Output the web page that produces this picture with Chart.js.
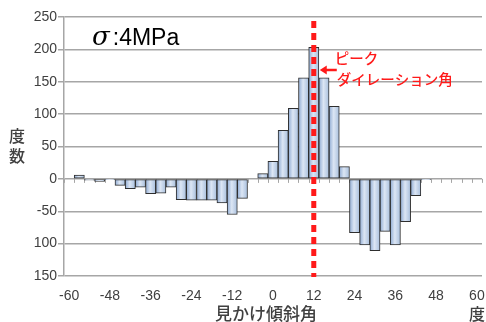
<!DOCTYPE html>
<html>
<head>
<meta charset="utf-8">
<script src="https://cdn.jsdelivr.net/npm/chart.js@4.4.1/dist/chart.umd.min.js"></script>
<style>
  html, body { margin: 0; padding: 0; background: #ffffff; }
  #wrap { width: 486px; height: 322px; position: relative; }
</style>
</head>
<body>
<div id="wrap"><canvas id="c" width="486" height="322"></canvas></div>
<script>
// Apparent dip angle bins (degrees, 3° steps)
const angles = [-60, -57, -54, -51, -48, -45, -42, -39, -36, -33, -30, -27, -24, -21,
                -18, -15, -12, -9, -6, -3, 0, 3, 6, 9, 12, 15, 18, 21, 24, 27, 30,
                33, 36, 39, 42, 45, 48, 51, 54, 57, 60];
// Frequency per bin
const counts = [0, 6, -2, -4, -1, -10, -15, -13, -23, -22, -13, -32, -33, -33,
                -33, -37, -55, -30, 0, 8, 27, 75, 109, 156, 203, 156, 112, 19, -83, -102, -111,
                -81, -102, -66, -26, -1, 0, 0, 0, 0, 0];
// Angle labels printed under the axis
const xTickLabels = ['-60', '-48', '-36', '-24', '-12', '0', '12', '24', '36', '48', '60'];
// Frequency axis ticks and their printed text
const yTickValues = [250, 200, 150, 100, 50, 0, -50, -100, -150];
const yTickText = ['250', '200', '150', '100', '50', '0', '-50', '100', '150'];
// Peak dilation angle
const peakAngle = 12;

const GRID = '#a6a6a6';
const TEXT = '#404040';
const RED = '#ff1a1a';

function barFill(c) {
  const chart = c.chart;
  const xs = chart.scales && chart.scales.x;
  if (!xs || c.dataIndex == null || !isFinite(xs.width)) return '#b9cde5';
  const cx = xs.getPixelForValue(c.dataIndex);
  const w = xs.width / angles.length;
  const g = chart.ctx.createLinearGradient(cx - w / 2, 0, cx + w / 2, 0);
  g.addColorStop(0, '#8fabd3');
  g.addColorStop(0.45, '#dce6f4');
  g.addColorStop(1, '#a8bfdd');
  return g;
}

// Small tick marks along the zero line at each bin boundary
const zeroTicks = {
  id: 'zeroTicks',
  beforeDatasetsDraw(chart) {
    const { ctx, scales: { x, y } } = chart;
    const y0 = y.getPixelForValue(0);
    const w = x.width / angles.length;
    ctx.save();
    ctx.strokeStyle = GRID;
    ctx.lineWidth = 1;
    for (let i = 0; i <= angles.length; i++) {
      const px = Math.round(x.getPixelForValue(Math.min(i, angles.length - 1)) + (i === angles.length ? w / 2 : -w / 2)) + 0.5;
      ctx.beginPath();
      ctx.moveTo(px, y0);
      ctx.lineTo(px, y0 + 4);
      ctx.stroke();
    }
    ctx.restore();
  }
};

// Titles, stress label and the peak dilation marker
const annotations = {
  id: 'annotations',
  afterDatasetsDraw(chart) {
    const { ctx, chartArea: area, scales: { x } } = chart;
    const px = x.getPixelForValue(angles.indexOf(peakAngle));

    ctx.save();
    // dashed peak line
    ctx.strokeStyle = RED;
    ctx.lineWidth = 5;
    ctx.setLineDash([7, 5]);
    ctx.beginPath();
    ctx.moveTo(px, area.top + 4);
    ctx.lineTo(px, area.bottom + 1);
    ctx.stroke();
    ctx.setLineDash([]);

    // arrow pointing at the line
    const ay = area.top + 53;
    ctx.lineWidth = 2.5;
    ctx.beginPath();
    ctx.moveTo(px + 23, ay);
    ctx.lineTo(px + 11, ay);
    ctx.stroke();
    ctx.fillStyle = RED;
    ctx.beginPath();
    ctx.moveTo(px + 6, ay);
    ctx.lineTo(px + 13, ay - 4.5);
    ctx.lineTo(px + 13, ay + 4.5);
    ctx.closePath();
    ctx.fill();

    ctx.font = '500 14.5px "Noto Sans CJK JP"';
    ctx.textBaseline = 'middle';
    ctx.textAlign = 'left';
    ctx.fillText('ピーク', px + 21, area.top + 41);
    ctx.fillText('ダイレーション角', px + 23, area.top + 62);

    // stress label
    ctx.fillStyle = '#000000';
    ctx.textBaseline = 'alphabetic';
    ctx.font = 'italic 26px "DejaVu Serif"';
    ctx.fillText('σ', area.left + 28, area.top + 28);
    const sw = ctx.measureText('σ').width;
    ctx.font = '23px "Liberation Sans"';
    ctx.fillText(':4MPa', area.left + 31 + sw, area.top + 28);
    ctx.restore();
  },
  afterDraw(chart) {
    const { ctx } = chart;
    ctx.save();
    ctx.fillStyle = TEXT;
    ctx.textAlign = 'center';
    ctx.textBaseline = 'middle';
    ctx.font = '500 16px "Noto Sans CJK JP"';
    ctx.fillText('度', 17, 136);
    ctx.fillText('数', 17, 156);
    ctx.font = '500 17px "Noto Sans CJK JP"';
    ctx.fillText('見かけ傾斜角', 266, 314);
    ctx.font = '500 16px "Noto Sans CJK JP"';
    ctx.fillText('度', 477, 314);
    ctx.restore();
  }
};

new Chart(document.getElementById('c'), {
  type: 'bar',
  data: {
    labels: angles.map(String),
    datasets: [{
      data: counts,
      backgroundColor: barFill,
      borderColor: '#2e2e2e',
      borderWidth: 1,
      borderSkipped: false,
      barPercentage: 1,
      categoryPercentage: 1
    }]
  },
  options: {
    responsive: false,
    animation: false,
    devicePixelRatio: 1,
    layout: { padding: { top: 17, right: 4, left: 0, bottom: 0 } },
    plugins: { legend: { display: false }, tooltip: { enabled: false } },
    scales: {
      x: {
        grid: { display: false },
        border: { display: false },
        ticks: {
          autoSkip: false,
          maxRotation: 0,
          padding: 4,
          color: TEXT,
          font: { family: '"Liberation Sans"', size: 14 },
          callback: (v, i) => (xTickLabels.includes(String(angles[i])) ? String(angles[i]) : '')
        },
        afterFit: (s) => { s.height = 46; s.paddingLeft = 0; s.paddingRight = 0; }
      },
      y: {
        min: -150,
        max: 250,
        afterBuildTicks: (s) => { s.ticks = yTickValues.map((v) => ({ value: v })); },
        ticks: {
          padding: 1,
          color: TEXT,
          font: { family: '"Liberation Sans"', size: 14 },
          callback: (v) => yTickText[yTickValues.indexOf(v)]
        },
        grid: { color: GRID, lineWidth: 1.5, tickLength: 6 },
        border: { color: GRID, width: 1.5 },
        afterFit: (s) => { s.width = 64; s.paddingTop = 0; s.paddingBottom = 0; }
      }
    }
  },
  plugins: [zeroTicks, annotations]
});
</script>
</body>
</html>
